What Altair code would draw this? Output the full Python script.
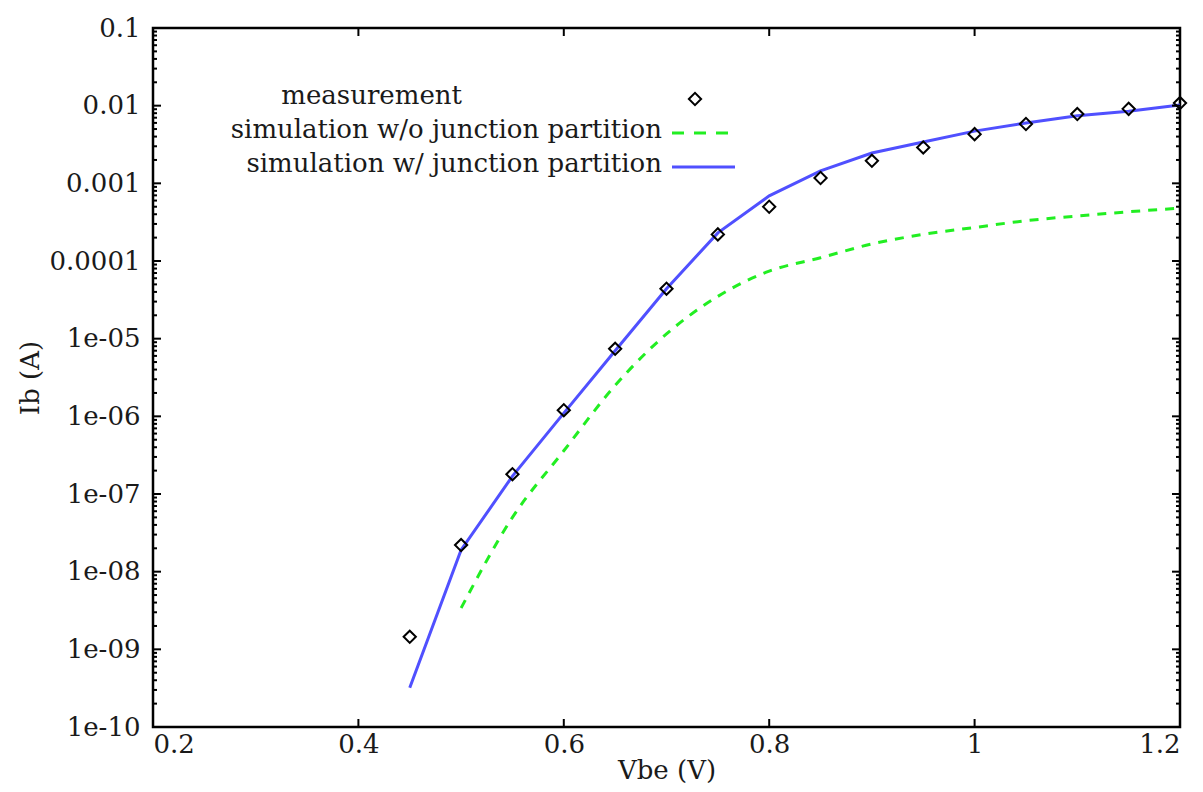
import altair as alt
import pandas as pd

# ---------------- data ----------------
vbe_meas = [0.45, 0.5, 0.55, 0.6, 0.65, 0.7, 0.75, 0.8, 0.85, 0.9, 0.95, 1.0, 1.05, 1.1, 1.15, 1.2]
ib_meas = [1.45e-9, 2.2e-8, 1.8e-7, 1.2e-6, 7.4e-6, 4.4e-5, 2.2e-4, 5.0e-4, 1.17e-3, 1.95e-3,
           2.9e-3, 4.3e-3, 5.8e-3, 7.8e-3, 9.1e-3, 1.08e-2]

vbe_sim_jp = [0.45, 0.5, 0.55, 0.6, 0.65, 0.7, 0.75, 0.8, 0.85, 0.9, 0.95, 1.0, 1.05, 1.1, 1.15, 1.2]
ib_sim_jp = [3.2e-10, 1.9e-8, 1.7e-7, 1.1e-6, 7.0e-6, 4.4e-5, 2.3e-4, 6.9e-4, 1.45e-3, 2.46e-3,
             3.4e-3, 4.7e-3, 6.0e-3, 7.4e-3, 8.5e-3, 1.02e-2]

vbe_sim_nojp = [0.5, 0.55, 0.6, 0.65, 0.7, 0.75, 0.8, 0.85, 0.9, 0.95, 1.0, 1.05, 1.1, 1.15, 1.2]
ib_sim_nojp = [3.4e-9, 5.0e-8, 3.6e-7, 2.5e-6, 1.15e-5, 3.5e-5, 7.4e-5, 1.1e-4, 1.66e-4, 2.2e-4,
               2.7e-4, 3.3e-4, 3.8e-4, 4.3e-4, 4.8e-4]

x_ticks = [0.2, 0.4, 0.6, 0.8, 1.0, 1.2]
y_ticks = [1e-10, 1e-9, 1e-8, 1e-7, 1e-6, 1e-5, 1e-4, 1e-3, 1e-2, 1e-1]
y_tick_labels = ["1e-10", "1e-09", "1e-08", "1e-07", "1e-06", "1e-05", "0.0001", "0.001", "0.01", "0.1"]
y_minor = [m * d for d in y_ticks[:-1] for m in range(2, 10)]

legend_labels = ["measurement", "simulation w/o junction partition", "simulation w/ junction partition"]

# ---------------- style ----------------
W, H = 1027, 699
FONT = "DejaVu Serif"
FS = 26
TXT = "#1a1a1a"
BLUE = "#5050ff"
GREEN = "#22ee22"

xs = alt.Scale(domain=[0.2, 1.2], nice=False, zero=False)
ys = alt.Scale(type="log", domain=[1e-10, 0.1], nice=False)

label_arr = "[" + ",".join("'%s'" % s for s in y_tick_labels) + "]"

df_meas = pd.DataFrame({"Vbe": vbe_meas, "Ib": ib_meas})
df_jp = pd.DataFrame({"Vbe": vbe_sim_jp, "Ib": ib_sim_jp})
df_nojp = pd.DataFrame({"Vbe": vbe_sim_nojp, "Ib": ib_sim_nojp})

x_enc = alt.X("Vbe:Q", scale=xs, title="Vbe (V)",
              axis=alt.Axis(values=x_ticks, labelExpr="format(datum.value, '~g')",
                            ticks=False, domain=False, grid=False,
                            labelPadding=4, titlePadding=0,
                            labelFont=FONT, labelFontSize=FS, labelColor=TXT,
                            titleFont=FONT, titleFontSize=FS, titleFontWeight="normal", titleColor=TXT))
y_enc = alt.Y("Ib:Q", scale=ys, title="Ib (A)",
              axis=alt.Axis(values=y_ticks,
                            labelExpr=label_arr + "[round(log(datum.value)/LN10)+10]",
                            ticks=False, domain=False, grid=False,
                            labelPadding=13, titlePadding=6,
                            labelFont=FONT, labelFontSize=FS, labelColor=TXT,
                            titleFont=FONT, titleFontSize=FS, titleFontWeight="normal", titleColor=TXT))

green_line = alt.Chart(df_nojp).mark_line(color=GREEN, strokeWidth=3, strokeDash=[9, 8],
                                          interpolate="monotone").encode(x=x_enc, y=y_enc)
blue_line = alt.Chart(df_jp).mark_line(color=BLUE, strokeWidth=3).encode(
    x=alt.X("Vbe:Q", scale=xs), y=alt.Y("Ib:Q", scale=ys))
points = alt.Chart(df_meas).mark_point(shape="diamond", filled=False, color="black",
                                       size=150, strokeWidth=2, opacity=1).encode(
    x=alt.X("Vbe:Q", scale=xs), y=alt.Y("Ib:Q", scale=ys))

# inward ticks (gnuplot style)
df_xt = pd.DataFrame({"Vbe": x_ticks})
df_yt = pd.DataFrame({"Ib": y_ticks})
df_ym = pd.DataFrame({"Ib": y_minor})
tick_layers = []
for y0, y1 in [(H, H - 8), (0, 8)]:
    tick_layers.append(alt.Chart(df_xt).mark_rule(color="black", strokeWidth=2).encode(
        x=alt.X("Vbe:Q", scale=xs), y=alt.value(y0), y2=alt.value(y1)))
for df_t, ln in [(df_yt, 8), (df_ym, 4)]:
    for x0, x1 in [(0, ln), (W, W - ln)]:
        tick_layers.append(alt.Chart(df_t).mark_rule(color="black", strokeWidth=2).encode(
            y=alt.Y("Ib:Q", scale=ys), x=alt.value(x0), x2=alt.value(x1)))

# key
key_text = []
for i, (lab, xr) in enumerate(zip(legend_labels, [309, 509, 509])):
    key_text.append(alt.Chart(pd.DataFrame({"label": [lab]})).mark_text(
        align="right", baseline="middle", font=FONT, fontSize=FS, color=TXT).encode(
        text="label:N", x=alt.value(xr), y=alt.value(68 + 34 * i)))
key_pt = alt.Chart(pd.DataFrame({"label": [legend_labels[0]]})).mark_point(
    shape="diamond", filled=False, color="black", size=150, strokeWidth=2, opacity=1).encode(
    x=alt.value(542), y=alt.value(71))
key_green = alt.Chart(pd.DataFrame({"label": [legend_labels[1]]})).mark_rule(
    color=GREEN, strokeWidth=3, strokeDash=[12, 10]).encode(
    x=alt.value(519), x2=alt.value(582), y=alt.value(105))
key_blue = alt.Chart(pd.DataFrame({"label": [legend_labels[2]]})).mark_rule(
    color=BLUE, strokeWidth=3).encode(
    x=alt.value(519), x2=alt.value(582), y=alt.value(139))

chart = alt.layer(green_line, blue_line, points, *tick_layers, *key_text, key_pt, key_green, key_blue).properties(
    width=W, height=H,
    autosize=alt.AutoSizeParams(type="none"),
    padding={"left": 145, "top": 20, "right": 15, "bottom": 57},
    background="white",
).configure_view(stroke="black", strokeWidth=2.5)

chart.save("out.html", embed_options={"renderer": "svg", "actions": False})
